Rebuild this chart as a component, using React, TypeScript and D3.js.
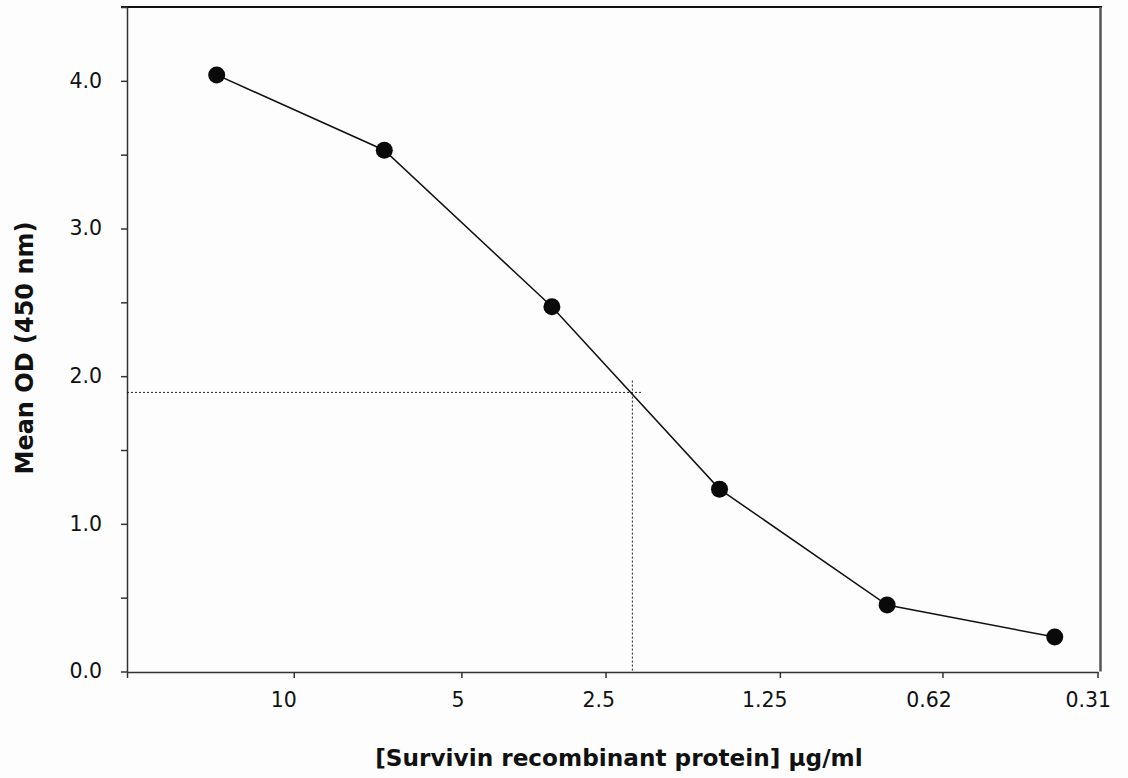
import React from "react";
import * as d3 from "d3";

// dilution steps (one per sample) and the mean OD read at each
const steps = [0, 1, 2, 3, 4, 5];
const meanOD = [4.04, 3.53, 2.47, 1.235, 0.45, 0.233];

// x axis: concentrations, ticks and labels sit at their own step positions
const concLabels = ["10", "5", "2.5", "1.25", "0.62", "0.31"];
const concTickAt = [-0.535, 0.46, 1.46, 2.32, 3.36, 4.33, 5.255];
const concLabelAt = [0.4, 1.44, 2.28, 3.27, 4.25, 5.2];

// y axis ticks, labelled only on whole numbers
const odTicks = [0, 0.5, 1, 1.5, 2, 2.5, 3, 3.5, 4, 4.5];
const odLabels = [0, 1, 2, 3, 4];

// read-off cross hair
const cutoffStep = 2.48;
const cutoffOD = 1.89;
const cutoffStepEnd = 2.54;
const cutoffODTop = 1.97;

class App extends React.Component {
    private node: any;

    constructor(props: any) {
        super(props);
        this.node = React.createRef();
    }

    componentDidMount() {
        this.draw();
    }

    private draw() {
        const svg = d3.select(this.node.current);
        svg.selectAll("*").remove();

        const xScale = d3.scaleLinear().domain([-0.535, 5.258]).range([127, 1098]);
        const yScale = d3.scaleLinear().domain([0, 4.5]).range([671.5, 7]);
        const font = "'DejaVu Sans', Verdana, sans-serif";

        svg.append("rect").attr("width", 1128).attr("height", 778).attr("fill", "#fdfdfd");

        // frame top + right
        svg.append("line")
            .attr("x1", 121).attr("x2", 1102)
            .attr("y1", yScale(4.5)).attr("y2", yScale(4.5))
            .attr("stroke", "#111").attr("stroke-width", 2);
        svg.append("line")
            .attr("x1", 1100.5).attr("x2", 1100.5)
            .attr("y1", yScale(4.5)).attr("y2", yScale(0))
            .attr("stroke", "#555").attr("stroke-width", 2.5);

        // y axis
        const yAxis = d3.axisLeft(yScale)
            .tickValues(odTicks)
            .tickSize(6)
            .tickSizeOuter(0)
            .tickFormat(() => "");
        const gy = svg.append("g").attr("transform", "translate(127,0)").call(yAxis);
        gy.selectAll("path, line").attr("stroke", "#333").attr("stroke-width", 1.5);

        svg.append("g").selectAll("text")
            .data(odLabels)
            .enter().append("text")
            .attr("x", 102)
            .attr("y", d => yScale(d))
            .attr("dy", "0.34em")
            .attr("text-anchor", "end")
            .attr("font-family", font)
            .attr("font-size", 20.5)
            .attr("fill", "#111")
            .text(d => d3.format(".1f")(d));

        // x axis
        const xAxis = d3.axisBottom(xScale)
            .tickValues(concTickAt)
            .tickSize(6)
            .tickSizeOuter(0)
            .tickFormat(() => "");
        const gx = svg.append("g").attr("transform", "translate(0,672)").call(xAxis);
        gx.selectAll("path, line").attr("stroke", "#333").attr("stroke-width", 1.5);

        svg.append("g").selectAll("text")
            .data(concLabels)
            .enter().append("text")
            .attr("x", (d, i) => xScale(concLabelAt[i]))
            .attr("y", 707)
            .attr("text-anchor", "middle")
            .attr("font-family", font)
            .attr("font-size", 20.5)
            .attr("fill", "#111")
            .text(d => d);

        // dotted cross hair
        svg.append("line")
            .attr("x1", xScale.range()[0]).attr("x2", xScale(cutoffStepEnd))
            .attr("y1", yScale(cutoffOD)).attr("y2", yScale(cutoffOD))
            .attr("stroke", "#222").attr("stroke-width", 1).attr("stroke-dasharray", "2,2");
        svg.append("line")
            .attr("x1", xScale(cutoffStep)).attr("x2", xScale(cutoffStep))
            .attr("y1", yScale(cutoffODTop)).attr("y2", yScale(0))
            .attr("stroke", "#222").attr("stroke-width", 1).attr("stroke-dasharray", "2,2");

        // curve
        const line = d3.line<number>()
            .x(d => xScale(d))
            .y((d, i) => yScale(meanOD[i]));
        svg.append("path")
            .datum(steps)
            .attr("d", line as any)
            .attr("fill", "none")
            .attr("stroke", "#111")
            .attr("stroke-width", 1.5);

        svg.append("g").selectAll("circle")
            .data(steps)
            .enter().append("circle")
            .attr("cx", d => xScale(d))
            .attr("cy", (d, i) => yScale(meanOD[i]))
            .attr("r", 8.5)
            .attr("fill", "#0a0a0a");

        // axis titles
        svg.append("text")
            .attr("x", 619).attr("y", 766)
            .attr("text-anchor", "middle")
            .attr("font-family", font)
            .attr("font-weight", "bold")
            .attr("font-size", 23.2)
            .attr("fill", "#111")
            .text("[Survivin recombinant protein] µg/ml");
        svg.append("text")
            .attr("transform", "translate(33,348) rotate(-90)")
            .attr("text-anchor", "middle")
            .attr("font-family", font)
            .attr("font-weight", "bold")
            .attr("font-size", 24)
            .attr("fill", "#111")
            .text("Mean OD (450 nm)");
    }

    render() {
        return (
            <svg ref={this.node} width={1128} height={778}
                style={{position: "absolute", left: 0, top: 0}}></svg>
        );
    }
}

export default App;
